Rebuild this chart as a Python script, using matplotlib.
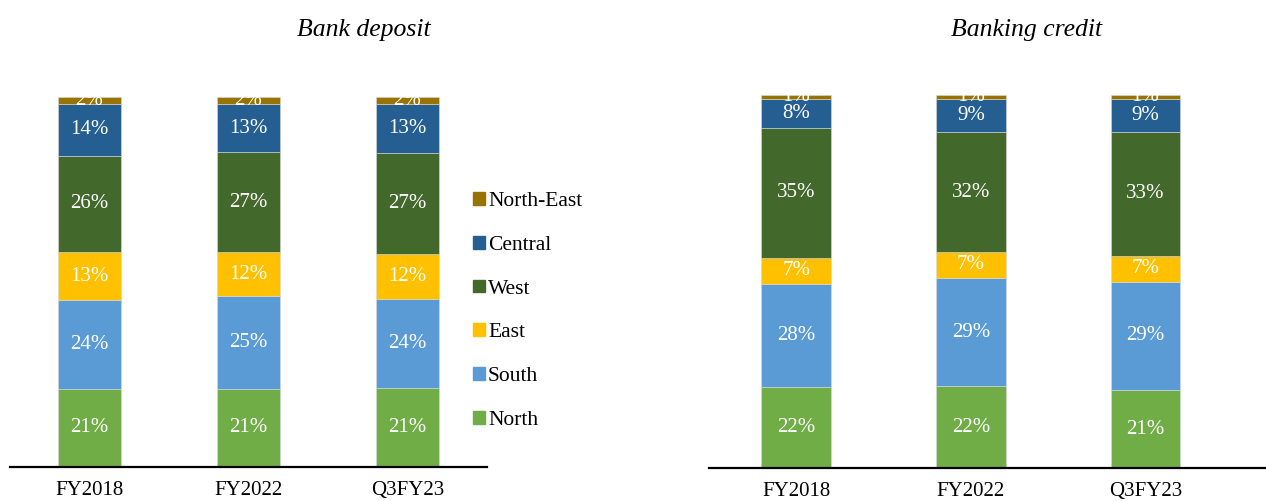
import matplotlib.pyplot as plt
import numpy as np
from matplotlib.patches import Patch

plt.rcParams['font.family'] = ['Liberation Serif', 'DejaVu Serif']

periods = ["FY2018", "FY2022", "Q3FY23"]
regions = ["North", "South", "East", "West", "Central", "North-East"]
colors = ["#70AD47", "#5B9BD5", "#FFC000", "#43682B", "#255E91", "#997300"]

# share of each region (%), per period
deposit_north = [21, 21, 21]
deposit_south = [24, 25, 24]
deposit_east = [13, 12, 12]
deposit_west = [26, 27, 27]
deposit_central = [14, 13, 13]
deposit_ne = [2, 2, 2]

credit_north = [22, 22, 21]
credit_south = [28, 29, 29]
credit_east = [7, 7, 7]
credit_west = [35, 32, 33]
credit_central = [8, 9, 9]
credit_ne = [1, 1, 1]

deposit = [deposit_north, deposit_south, deposit_east, deposit_west, deposit_central, deposit_ne]
credit = [credit_north, credit_south, credit_east, credit_west, credit_central, credit_ne]


def stacked(ax, data, xlim_right):
    vals = np.array(data, dtype=float)
    heights = vals / vals.sum(axis=0) * 100  # 100% stacked
    x = np.arange(len(periods))
    bottom = np.zeros(len(periods))
    for i, reg in enumerate(regions):
        ax.bar(x, heights[i], 0.4, bottom=bottom, color=colors[i],
               edgecolor="#d9d9d9", linewidth=0.4, label=reg)
        for j in range(len(periods)):
            ax.text(x[j], bottom[j] + heights[i][j] / 2, f"{int(vals[i][j])}%",
                    ha="center", va="center", color="white", fontsize=15,
                    clip_on=True)
        bottom += heights[i]
    ax.set_ylim(0, 100)
    ax.set_xlim(-0.5, xlim_right)
    ax.set_xticks(x)
    ax.set_xticklabels(periods, fontsize=15)
    ax.tick_params(axis="x", length=0, pad=10)
    ax.set_yticks([])
    for s in ["top", "right", "left"]:
        ax.spines[s].set_visible(False)
    ax.spines["bottom"].set_linewidth(1.6)


fig = plt.figure(figsize=(12.66, 5.01), dpi=100)
ax1 = fig.add_axes([10 / 1266, 0.0685, 477 / 1266, 0.7385])
ax2 = fig.add_axes([709 / 1266, 0.0653, 557 / 1266, 0.745])

stacked(ax1, deposit, 2.5)
stacked(ax2, credit, 2.69)

fig.text(364 / 1266, 1 - 30 / 501, "Bank deposit", ha="center", va="center",
         fontsize=18.5, style="italic")
fig.text(1027 / 1266, 1 - 30 / 501, "Banking credit", ha="center", va="center",
         fontsize=18.5, style="italic")

handles = [Patch(color=c, label=r) for r, c in zip(regions, colors)][::-1]
fig.legend(handles=handles, loc="center left", bbox_to_anchor=(473 / 1266, 1 - 311 / 501),
           frameon=False, fontsize=15.5, handlelength=0.55, handleheight=0.55,
           handletextpad=0.15, labelspacing=1.15, borderpad=0, borderaxespad=0)

fig.savefig("out.png", dpi=100)
